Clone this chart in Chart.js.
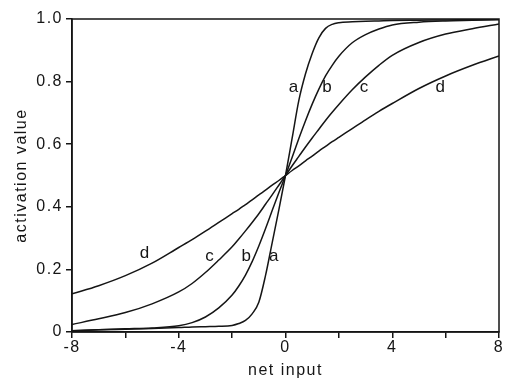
<!DOCTYPE html>
<html><head><meta charset="utf-8">
<script src="https://cdn.jsdelivr.net/npm/chart.js@4.4.0/dist/chart.umd.min.js"></script>
<style>html,body{margin:0;padding:0;background:#fff;overflow:hidden}canvas{display:block}</style>
</head><body>
<canvas id="c" width="508" height="385"></canvas>
<script>
const netInput = [-8,-7,-6,-5,-4,-3.5,-3,-2.5,-2,-1.75,-1.5,-1.25,-1,-0.75,-0.5,-0.25,0,0.25,0.5,0.75,1,1.25,1.5,1.75,2,2.5,3,3.5,4,5,6,7,8];
const curveA = [0.004,0.007,0.009,0.011,0.014,0.016,0.017,0.018,0.021,0.027,0.037,0.058,0.095,0.18,0.285,0.39,0.5,0.62,0.74,0.825,0.89,0.94,0.97,0.983,0.988,0.991,0.993,0.994,0.995,0.996,0.997,0.998,0.999];
const curveB = [0.004,0.007,0.01,0.013,0.02,0.03,0.048,0.077,0.118,0.147,0.182,0.225,0.275,0.33,0.388,0.445,0.5,0.558,0.618,0.675,0.728,0.776,0.818,0.852,0.881,0.924,0.95,0.968,0.981,0.99,0.994,0.996,0.998];
const curveC = [0.024,0.042,0.062,0.09,0.128,0.155,0.19,0.23,0.272,0.297,0.323,0.35,0.378,0.408,0.438,0.469,0.5,0.531,0.561,0.591,0.62,0.648,0.676,0.702,0.727,0.774,0.815,0.852,0.884,0.925,0.952,0.969,0.984];
const curveD = [0.122,0.148,0.18,0.22,0.27,0.295,0.322,0.35,0.378,0.392,0.407,0.422,0.438,0.453,0.469,0.484,0.5,0.516,0.531,0.547,0.562,0.578,0.593,0.608,0.622,0.65,0.678,0.705,0.73,0.778,0.818,0.852,0.882];

const xTickLabels = [-8,-4,0,4,8];
const yTickLabels = ['0','0.2','0.4','0.6','0.8','1.0'];

const curveNames = ['a','b','c','d'];
const upperLabelX = [0.30,1.55,2.94,5.80];
const upperLabelY = [0.768,0.768,0.768,0.768];
const lowerLabelX = [-0.44,-1.47,-2.85,-5.28];
const lowerLabelY = [0.227,0.227,0.227,0.235];

const FONT = '"Liberation Sans", Arial, Helvetica, sans-serif';
const INK = '#151515';

function series(vals){ return netInput.map((x,i)=>({x:x,y:vals[i]})); }
const lineStyle = {borderColor:INK, borderWidth:1.5, pointRadius:0, fill:false, cubicInterpolationMode:'monotone'};

const framePlugin = {
  id:'frame',
  beforeDraw(chart){ chart.ctx.letterSpacing = '1.5px'; },
  afterDraw(chart){
    const {ctx, chartArea:a, scales} = chart;
    ctx.save();
    ctx.strokeStyle = INK; ctx.lineWidth = 1.5;
    ctx.strokeRect(a.left, a.top, a.right-a.left, a.bottom-a.top);
    ctx.fillStyle = INK;
    ctx.font = '17px ' + FONT;
    ctx.textAlign = 'center'; ctx.textBaseline = 'alphabetic';
    ctx.letterSpacing = '0px';
    curveNames.forEach((n,i)=>{
      ctx.fillText(n, scales.x.getPixelForValue(upperLabelX[i]), scales.y.getPixelForValue(upperLabelY[i]));
      ctx.fillText(n, scales.x.getPixelForValue(lowerLabelX[i]), scales.y.getPixelForValue(lowerLabelY[i]));
    });
    ctx.restore();
  }
};

new Chart(document.getElementById('c'), {
  type:'line',
  data:{datasets:[
    Object.assign({label:'a', data:series(curveA)}, lineStyle),
    Object.assign({label:'b', data:series(curveB)}, lineStyle),
    Object.assign({label:'c', data:series(curveC)}, lineStyle),
    Object.assign({label:'d', data:series(curveD)}, lineStyle)
  ]},
  options:{
    responsive:false, animation:false, devicePixelRatio:1,
    layout:{padding:{top:19,right:9,left:0,bottom:0}},
    plugins:{legend:{display:false}, tooltip:{enabled:false}},
    scales:{
      x:{type:'linear', min:-8, max:8, position:'bottom',
        ticks:{stepSize:2, autoSkip:false, maxRotation:0, padding:0, color:INK,
          font:{family:FONT, size:16},
          callback:(v)=> xTickLabels.includes(v) ? String(v) : ''},
        grid:{drawOnChartArea:false, drawTicks:true, tickLength:6, color:INK, lineWidth:1.5},
        border:{display:true, color:INK, width:1.5},
        title:{display:true, text:'net input', color:INK, font:{family:FONT, size:16}, padding:{top:0,bottom:5}},
        afterFit:(s)=>{ s.height = 53; }
      },
      y:{type:'linear', min:0, max:1, position:'left',
        ticks:{stepSize:0.2, padding:3, color:INK, font:{family:FONT, size:16},
          callback:(v,i)=> yTickLabels[i]},
        grid:{drawOnChartArea:false, drawTicks:true, tickLength:6, color:INK, lineWidth:1.5},
        border:{display:true, color:INK, width:1.5},
        title:{display:true, text:'activation value', color:INK, font:{family:FONT, size:16}, padding:{top:12,bottom:0}},
        afterFit:(s)=>{ s.width = 72; }
      }
    }
  },
  plugins:[framePlugin]
});
</script>
</body></html>
